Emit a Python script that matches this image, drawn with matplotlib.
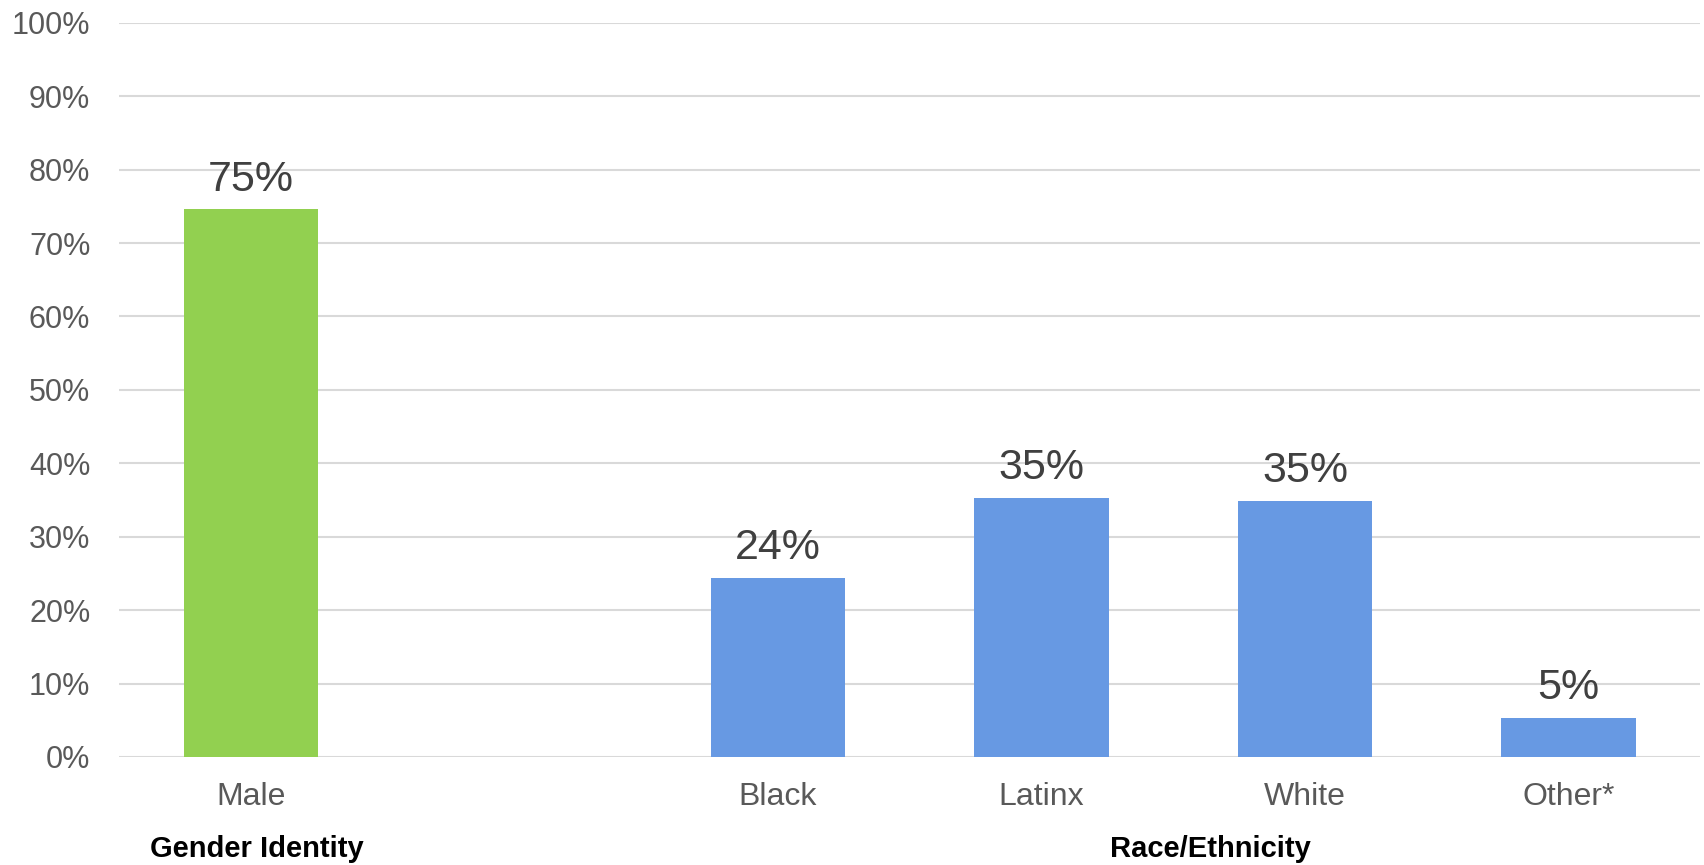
import matplotlib
matplotlib.use("Agg")
import matplotlib.pyplot as plt
from matplotlib.transforms import blended_transform_factory

plt.rcParams['font.family'] = ['Liberation Sans', 'DejaVu Sans']

# Data
gender_labels = ["Male"]
gender_values = [74.6]
race_labels = ["Black", "Latinx", "White", "Other*"]
race_values = [24.4, 35.3, 34.9, 5.3]
group_names = ["Gender Identity", "Race/Ethnicity"]
y_ticks = [0, 10, 20, 30, 40, 50, 60, 70, 80, 90, 100]

GREEN = "#92D050"
BLUE = "#6799E3"
GRID = "#D9D9D9"
TICK_COLOR = "#595959"
LABEL_COLOR = "#404040"

fig = plt.figure(figsize=(17.04, 8.65), dpi=100)
ax = fig.add_axes([0.0701, 0.1249, 0.9276, 0.8487])

# slot positions: gender group, one empty slot, race group
gender_x = list(range(len(gender_labels)))
race_start = len(gender_labels) + 1
race_x = [race_start + i for i in range(len(race_labels))]

bars_g = ax.bar(gender_x, gender_values, width=0.51, color=GREEN, zorder=3)
bars_r = ax.bar(race_x, race_values, width=0.51, color=BLUE, zorder=3)

for bars, vals in ((bars_g, gender_values), (bars_r, race_values)):
    for b, v in zip(bars, vals):
        ax.annotate(f"{v:.0f}%", (b.get_x() + b.get_width() / 2, v),
                    xytext=(0, 7), textcoords="offset points",
                    ha="center", va="bottom", fontsize=31, color=LABEL_COLOR)

ax.set_xlim(-0.5, race_x[-1] + 0.5)
ax.set_ylim(0, 100)
ax.set_yticks(y_ticks)
ax.set_yticklabels([f"{t}%" for t in y_ticks])
ax.set_xticks(gender_x + race_x)
ax.set_xticklabels(gender_labels + race_labels)
ax.tick_params(axis="y", length=0, pad=21, labelsize=22, labelcolor=TICK_COLOR)
ax.tick_params(axis="x", length=0, pad=18, labelsize=23, labelcolor=TICK_COLOR)
ax.yaxis.grid(True, color=GRID, linewidth=1.5, zorder=0)
ax.set_axisbelow(True)
for s in ax.spines.values():
    s.set_visible(False)

# group captions under the category labels
trans = blended_transform_factory(ax.transData, fig.transFigure)
ax.text(gender_x[0] + 0.02, 0.019, group_names[0], transform=trans, ha="center",
        va="center", fontsize=21, fontweight="bold", color="black")
ax.text(race_x[0] + 1.64, 0.019, group_names[1], transform=trans, ha="center",
        va="center", fontsize=21, fontweight="bold", color="black")

fig.savefig("out.png", dpi=100)
